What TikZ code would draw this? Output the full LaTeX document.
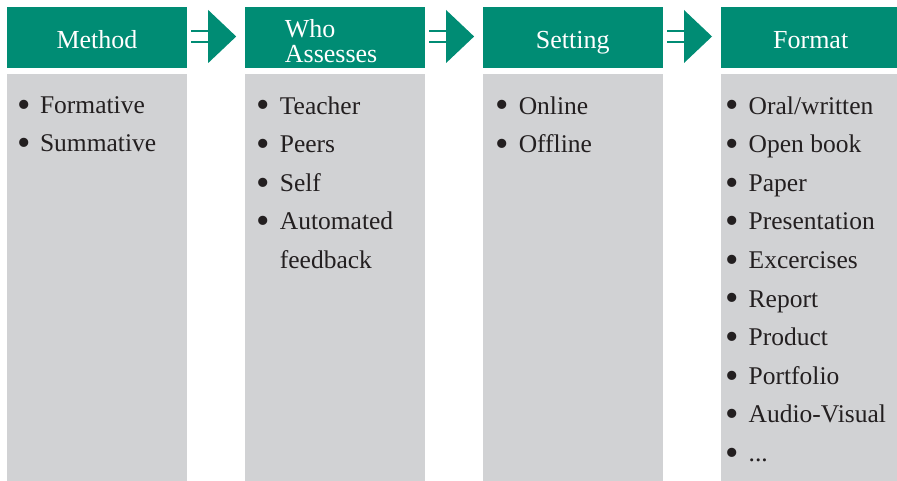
\documentclass[tikz,border=0pt]{standalone}
\usepackage{fontspec}
\setmainfont{Liberation Serif}
\usetikzlibrary{positioning}
\definecolor{headgreen}{RGB}{0,140,116}
\definecolor{boxgray}{RGB}{209,210,212}
\definecolor{itemtext}{RGB}{35,31,32}
\newcommand{\itm}[1]{\makebox[23pt][l]{\raisebox{-0.15em}{\scalebox{1.5}{\textbullet}}}#1}

\begin{document}
\begin{tikzpicture}[x=1pt,y=1pt,node distance=57.5pt,
    head node/.style={rectangle,fill=headgreen,text=white,minimum width=180pt,
                      minimum height=61pt,inner sep=0pt,font=\fontsize{26}{25}\selectfont},
    one line/.style={text height=23pt,text depth=0pt},
    body node/.style={rectangle,fill=boxgray,minimum width=180pt,minimum height=407pt,
                      inner sep=0pt,below=6pt of #1},
    list node/.style={anchor=north west,inner sep=0pt,align=left,text=itemtext,
                      font=\fontsize{25.5}{38.6}\selectfont},
    arrow line/.style={draw=headgreen,line width=2pt}]

       \useasboundingbox (0,0) rectangle (897,-481);

       \node[head node,one line] (method) at (97,-37.5) {Method};
       \node[head node,text width=100pt,align=left] (who) [right=of method]
         {\rule{0pt}{25pt}Who\\Assesses};
       \node[head node,one line] (setting) [right=of who] {Setting};
       \node[head node,one line] (format) [right=of setting] {Format};

       \node[body node=method] (methodbox) {};
       \node[body node=who] (whobox) {};
       \node[body node=setting] (settingbox) {};
       \node[body node=format] (formatbox) {};

       \node[list node] (methodlist) at ([shift={(10,-22)}]methodbox.north west)
         {\itm{Formative}\\\itm{Summative}};
       \node[list node] (wholist) at ([shift={(12,-22)}]whobox.north west)
         {\itm{Teacher}\\\itm{Peers}\\\itm{Self}\\\itm{Automated}\\\hspace*{23pt}feedback};
       \node[list node] (settinglist) at ([shift={(13,-22)}]settingbox.north west)
         {\itm{Online}\\\itm{Offline}};
       \node[list node] (formatlist) at ([shift={(5,-22)}]formatbox.north west)
         {\itm{Oral/written}\\\itm{Open book}\\\itm{Paper}\\\itm{Presentation}\\
          \itm{Excercises}\\\itm{Report}\\\itm{Product}\\\itm{Portfolio}\\
          \itm{Audio-Visual}\\\itm{...}};

       % arrows between the headers
       \foreach \a in {method,who,setting}{
         \draw[arrow line] ([shift={(4,6.5)}]\a.east) -- ++(17,0);
         \draw[arrow line] ([shift={(4,-4.5)}]\a.east) -- ++(17,0);
         \fill[headgreen] ([shift={(21,27.5)}]\a.east) -- ([shift={(49,1)}]\a.east)
           -- ([shift={(21,-25.5)}]\a.east) -- cycle;
       }

\end{tikzpicture}
\end{document}
